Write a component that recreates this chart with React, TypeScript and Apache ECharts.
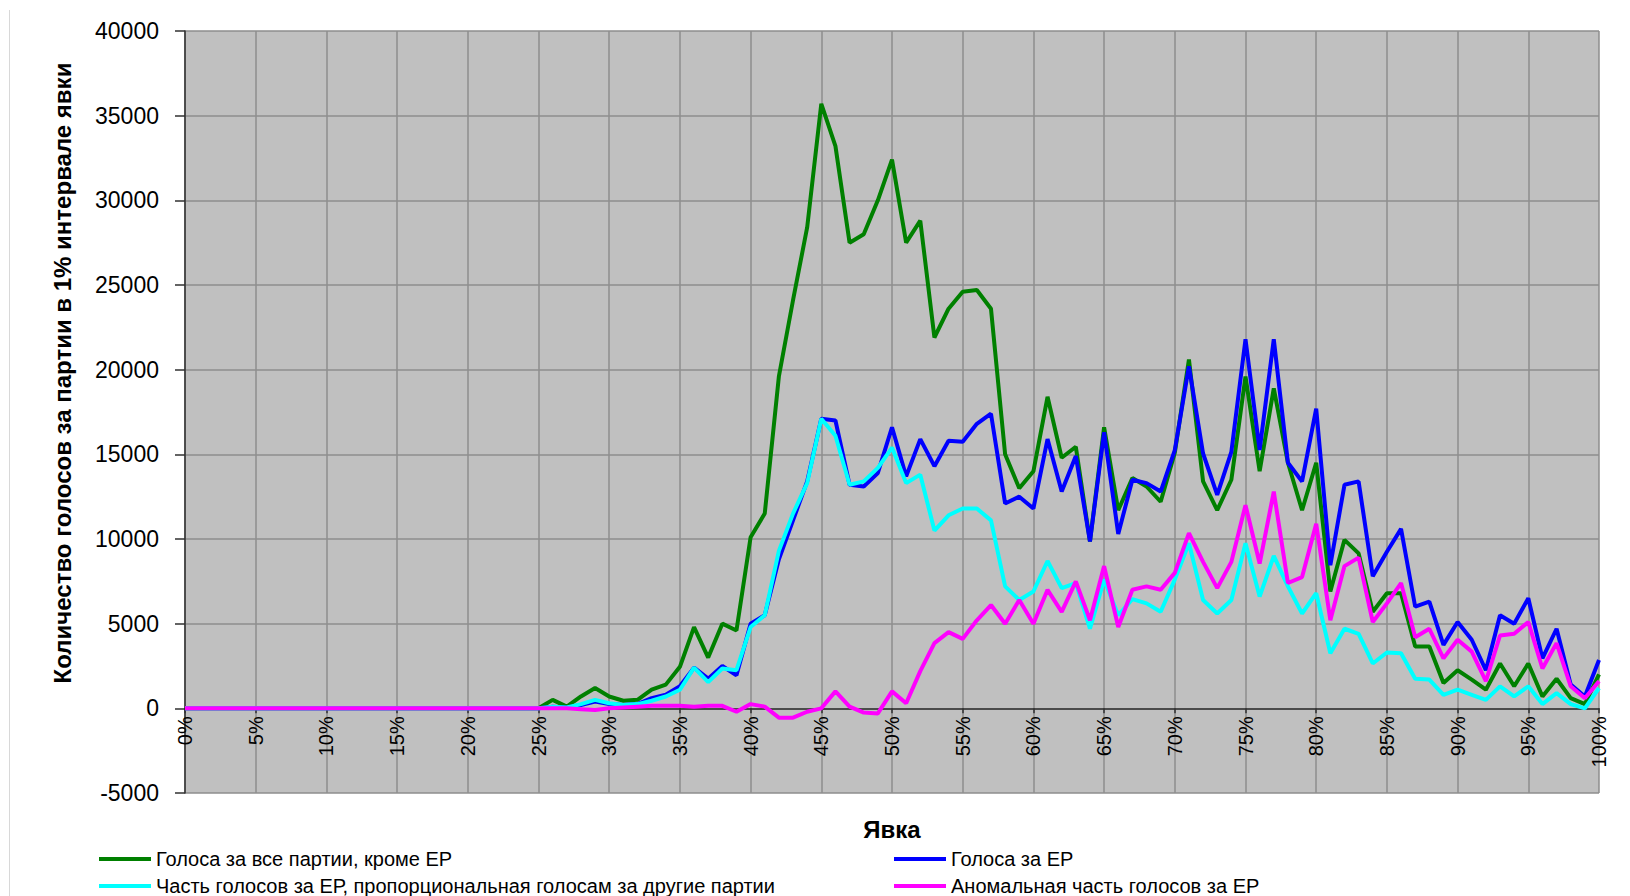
import React, { useEffect, useRef } from "react";
import * as echarts from "echarts";

// Turnout categories (percent)
const turnout: number[] = Array.from({ length: 101 }, (_, i) => i);

const seriesNames = [
  "Голоса за все партии, кроме ЕР",
  "Голоса за ЕР",
  "Часть голосов за ЕР, пропорциональная голосам за другие партии",
  "Аномальная часть голосов за ЕР",
];

const zeros25 = [0, 0, 0, 0, 0, 0, 0, 0, 0, 0, 0, 0, 0, 0, 0, 0, 0, 0, 0, 0, 0, 0, 0, 0, 0];

// 25%..100%
const otherParties: number[] = zeros25.concat([
  0, 500, 100, 700, 1200, 700, 450, 500, 1100, 1400,
  2450, 4800, 3000, 5000, 4600, 10100, 11500, 19600, 24100, 28400,
  35700, 33200, 27500, 28000, 30000, 32400, 27500, 28800, 21900, 23600,
  24600, 24700, 23600, 15000, 13000, 14000, 18400, 14800, 15450, 9850,
  16600, 11700, 13600, 13100, 12200, 15100, 20600, 13400, 11700, 13500,
  19600, 14000, 18900, 14500, 11700, 14500, 6900, 9950, 9150, 5700,
  6800, 6800, 3650, 3650, 1500, 2250, 1700, 1100, 2650, 1300,
  2650, 700, 1750, 600, 250, 2000,
]);

const erVotes: number[] = zeros25.concat([
  0, 100, 50, 200, 400, 250, 200, 250, 600, 800,
  1300, 2400, 1750, 2500, 1950, 5000, 5500, 8800, 11100, 13400,
  17100, 17000, 13200, 13100, 13900, 16600, 13700, 15900, 14300, 15800,
  15750, 16800, 17400, 12100, 12500, 11800, 15900, 12800, 14900, 9850,
  16300, 10300, 13500, 13300, 12800, 15250, 20200, 15050, 12600, 15150,
  21800, 15250, 21800, 14500, 13400, 17700, 8450, 13200, 13400, 7800,
  9250, 10600, 6000, 6300, 3750, 5100, 4050, 2250, 5500, 5000,
  6500, 2950, 4700, 1400, 700, 2850,
]);

const erProportional: number[] = zeros25.concat([
  0, 100, 50, 250, 500, 300, 200, 250, 450, 700,
  1100, 2400, 1550, 2350, 2250, 4800, 5500, 9300, 11500, 13300,
  17100, 16100, 13200, 13400, 14200, 15400, 13300, 13800, 10500, 11400,
  11800, 11800, 11100, 7200, 6400, 6900, 8700, 7100, 7400, 4700,
  7600, 5500, 6450, 6200, 5700, 7600, 9750, 6400, 5600, 6400,
  9750, 6600, 9000, 7200, 5600, 6800, 3250, 4700, 4400, 2650,
  3300, 3250, 1750, 1700, 800, 1100, 800, 500, 1300, 700,
  1300, 250, 900, 250, 0, 1200,
]);

const erAnomalous: number[] = zeros25.concat([
  0, 0, 0, -50, -100, 0, 50, 100, 150, 150,
  150, 100, 150, 150, -200, 250, 100, -550, -550, -200,
  0, 1000, 100, -250, -300, 1000, 300, 2200, 3850, 4500,
  4100, 5200, 6100, 5000, 6400, 5000, 7000, 5700, 7500, 5200,
  8400, 4800, 7000, 7200, 7000, 8000, 10350, 8650, 7100, 8650,
  12000, 8550, 12800, 7400, 7750, 10900, 5200, 8400, 8900, 5100,
  6200, 7400, 4200, 4700, 2950, 4050, 3350, 1600, 4300, 4400,
  5100, 2350, 3850, 1300, 600, 1600,
]);

const seriesValues = [otherParties, erVotes, erProportional, erAnomalous];
const seriesColors = ["#008000", "#0000ff", "#00ffff", "#ff00ff"];

const FONT = 'Arial, "Liberation Sans", sans-serif';

// grid geometry
const GRID_TOP = 31;
const GRID_BOTTOM_PX = 793;
const Y_MIN = -5000;
const Y_MAX = 40000;
const zeroOffset = -((GRID_BOTTOM_PX - GRID_TOP) * (0 - Y_MIN)) / (Y_MAX - Y_MIN);

// legend slots: [series index, left, top]
const legendSlots: [number, number, number][] = [
  [0, 99, 849],
  [1, 894, 849],
  [2, 99, 876],
  [3, 894, 876],
];

export default function App() {
  const ref = useRef<HTMLDivElement>(null);

  useEffect(() => {
    if (!ref.current) return;
    const chart = echarts.init(ref.current, undefined, { renderer: "svg" });
    const option: any = {
      animation: false,
      backgroundColor: "#ffffff",
      textStyle: { fontFamily: FONT },
      grid: {
        left: 185,
        right: 31,
        top: GRID_TOP,
        bottom: 896 - GRID_BOTTOM_PX,
        show: true,
        backgroundColor: "#c0c0c0",
        borderWidth: 0,
      },
      xAxis: {
        type: "value",
        min: 0,
        max: 100,
        interval: 5,
        offset: zeroOffset,
        axisLine: { show: true, onZero: false, lineStyle: { color: "#303030", width: 1.5 } },
        axisTick: { show: true, length: 5, lineStyle: { color: "#303030", width: 1.5 } },
        axisLabel: {
          rotate: 90,
          margin: 8,
          fontSize: 20,
          color: "#000",
          fontFamily: FONT,
          formatter: (v: number) => v + "%",
        },
        splitLine: { show: true, lineStyle: { color: "#8e8e8e", width: 1.5 } },
      },
      yAxis: {
        type: "value",
        min: Y_MIN,
        max: Y_MAX,
        interval: 5000,
        axisLine: { show: true, onZero: false, lineStyle: { color: "#303030", width: 1.5 } },
        axisTick: { show: true, length: 10, lineStyle: { color: "#303030", width: 1.5 } },
        axisLabel: {
          margin: 26,
          fontSize: 23,
          color: "#000",
          fontFamily: FONT,
          formatter: (v: number) => String(v),
        },
        splitLine: { show: true, lineStyle: { color: "#8e8e8e", width: 1.5 } },
      },
      legend: legendSlots.map(([s, left, top]) => ({
        data: [seriesNames[s]],
        orient: "horizontal",
        left,
        top,
        padding: 0,
        itemWidth: 52,
        itemHeight: 4,
        icon: "rect",
        textStyle: { fontSize: 20, color: "#000", fontFamily: FONT },
      })),
      graphic: [
        {
          type: "line",
          shape: { x1: 9.5, y1: 10, x2: 9.5, y2: 896 },
          style: { stroke: "#d8d8d8", lineWidth: 1 },
        },
        {
          type: "text",
          x: 62,
          y: 373,
          rotation: Math.PI / 2,
          style: {
            text: "Количество голосов за партии в 1% интервале явки",
            font: `bold 24px ${FONT}`,
            fill: "#000",
            align: "center",
            verticalAlign: "middle",
            textAlign: "center",
            textVerticalAlign: "middle",
          },
        },
        {
          type: "text",
          x: 892,
          y: 829,
          style: {
            text: "Явка",
            font: `bold 24px ${FONT}`,
            fill: "#000",
            align: "center",
            verticalAlign: "middle",
            textAlign: "center",
            textVerticalAlign: "middle",
          },
        },
      ],
      series: seriesNames.map((name, s) => ({
        name,
        type: "line",
        symbol: "none",
        showSymbol: false,
        color: seriesColors[s],
        lineStyle: { color: seriesColors[s], width: 4 },
        data: turnout.map((t, i) => [t, seriesValues[s][i]]),
      })),
    };
    chart.setOption(option);
    return () => chart.dispose();
  }, []);

  return (
    <div
      ref={ref}
      style={{ position: "fixed", left: 0, top: 0, width: 1630, height: 896 }}
    />
  );
}
